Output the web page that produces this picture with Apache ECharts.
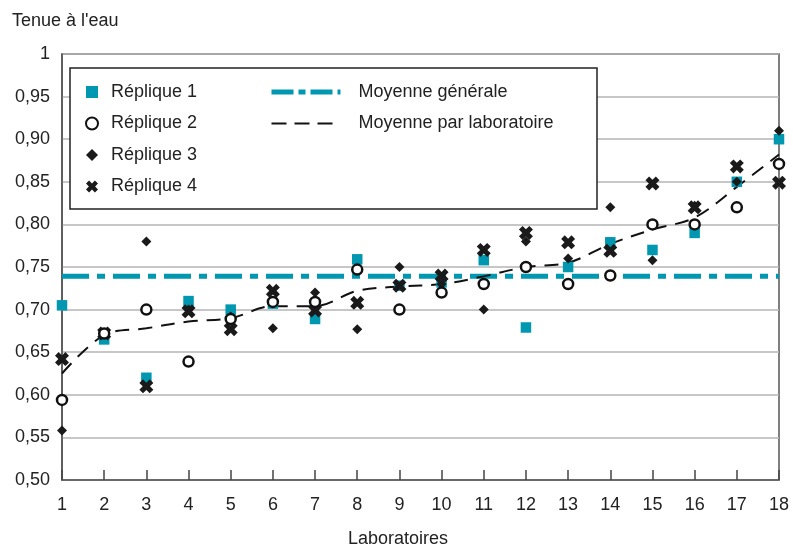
<!DOCTYPE html>
<html>
<head>
<meta charset="utf-8">
<script src="https://cdn.jsdelivr.net/npm/echarts@6/dist/echarts.min.js"></script>
<style>
  html, body { margin: 0; padding: 0; background: #fff; }
  #chart { width: 793px; height: 550px; }
</style>
</head>
<body>
<div id="chart"></div>
<script>
var labs = [1, 2, 3, 4, 5, 6, 7, 8, 9, 10, 11, 12, 13, 14, 15, 16, 17, 18]
var replique1 = [0.705, 0.665, 0.62, 0.71, 0.70, 0.707, 0.689, 0.759, 0.728, 0.732, 0.758, 0.679, 0.75, 0.779, 0.77, 0.79, 0.85, 0.90]
var replique2 = [0.594, 0.672, 0.70, 0.639, 0.689, 0.709, 0.709, 0.747, 0.70, 0.72, 0.73, 0.75, 0.73, 0.74, 0.80, 0.80, 0.82, 0.871]
var replique3 = [0.558, 0.672, 0.78, 0.70, 0.692, 0.678, 0.72, 0.677, 0.75, 0.73, 0.70, 0.78, 0.76, 0.82, 0.758, 0.822, 0.85, 0.91]
var replique4 = [0.642, 0.672, 0.61, 0.698, 0.677, 0.722, 0.699, 0.708, 0.728, 0.74, 0.77, 0.79, 0.779, 0.769, 0.848, 0.82, 0.868, 0.849]
var moyenneLabo = [0.625, 0.670, 0.678, 0.686, 0.690, 0.704, 0.704, 0.722, 0.727, 0.730, 0.739, 0.750, 0.755, 0.777, 0.794, 0.808, 0.844, 0.882]
var moyenneGenerale = 0.739

var teal = '#0097b0'
var ink = '#222'
var font = 'Liberation Sans, Arial, sans-serif'
// croix épaisse pour la réplique 4
var crossPath = 'path://M0,2.6 L2.6,0 L5,2.4 L7.4,0 L10,2.6 L7.6,5 L10,7.4 L7.4,10 L5,7.6 L2.6,10 L0,7.4 L2.4,5 Z'

function pairs(values) {
  return labs.map(function(l, i) { return [l, values[i]] })
}

var chart = echarts.init(document.getElementById('chart'))
chart.setOption({
  animation: false,
  textStyle: { fontFamily: font },
  title: {
    text: "Tenue à l'eau",
    left: 7,
    top: 7,
    textStyle: { fontFamily: font, fontSize: 18, fontWeight: 'normal', color: ink }
  },
  grid: {
    left: 62,
    right: 14,
    top: 54,
    bottom: 70,
    outerBoundsMode: 'none',
    show: true,
    borderColor: '#555',
    borderWidth: 1.5,
    backgroundColor: 'transparent'
  },
  xAxis: {
    type: 'value',
    min: 1,
    max: 18,
    interval: 1,
    name: 'Laboratoires',
    nameLocation: 'middle',
    nameGap: 50,
    nameTextStyle: { fontFamily: font, fontSize: 18, color: ink, padding: [0, 45, 0, 0] },
    axisLine: { lineStyle: { color: '#555', width: 1.5 } },
    axisTick: { inside: true, length: 10, lineStyle: { color: '#444', width: 1.5 } },
    axisLabel: { fontFamily: font, fontSize: 18, color: ink, margin: 16 },
    splitLine: { show: false }
  },
  yAxis: {
    type: 'value',
    min: 0.5,
    max: 1,
    interval: 0.05,
    axisLine: { show: true, lineStyle: { color: '#555', width: 1.5 } },
    axisTick: { show: false },
    axisLabel: {
      fontFamily: font,
      fontSize: 18,
      color: ink,
      margin: 12,
      formatter: function(v) {
        if (Math.abs(v - 1) < 1e-9) return '1'
        return v.toFixed(2).replace('.', ',')
      }
    },
    splitLine: { lineStyle: { color: '#b4b4b4', width: 1.5 } }
  },
  graphic: {
    elements: [{
      type: 'rect',
      z: 3,
      shape: { x: 70, y: 68, width: 527, height: 141 },
      style: { fill: '#fff', stroke: '#222', lineWidth: 1.5 }
    }]
  },
  legend: [
    {
      data: ['Réplique 1', 'Réplique 2', 'Réplique 3', 'Réplique 4'],
      orient: 'vertical',
      left: 85,
      top: 82,
      padding: 0,
      itemWidth: 12,
      itemHeight: 12,
      itemGap: 11.5,
      z: 4,
      textStyle: { fontFamily: font, fontSize: 18, color: ink, lineHeight: 20, padding: [0, 0, 0, 8] }
    },
    {
      data: [
        {
          name: 'Moyenne générale',
          itemStyle: { opacity: 0 },
          lineStyle: { color: teal, width: 5, type: [22, 5, 7, 5] }
        },
        {
          name: 'Moyenne par laboratoire',
          itemStyle: { opacity: 0 },
          lineStyle: { color: '#111', width: 2, type: [15, 8] }
        }
      ],
      orient: 'vertical',
      left: 269,
      top: 82,
      padding: 0,
      itemWidth: 69,
      itemHeight: 12,
      itemGap: 11.5,
      z: 4,
      textStyle: { fontFamily: font, fontSize: 18, color: ink, lineHeight: 20, padding: [0, 0, 0, 13] }
    }
  ],
  series: [
    {
      name: 'Moyenne générale',
      type: 'line',
      z: 1,
      symbol: 'none',
      data: [[1, moyenneGenerale], [18, moyenneGenerale]],
      lineStyle: { color: teal, width: 5, type: [27, 8, 8, 8] },
      itemStyle: { color: teal }
    },
    {
      name: 'Moyenne par laboratoire',
      type: 'line',
      z: 1,
      symbol: 'none',
      smooth: 0.35,
      data: pairs(moyenneLabo),
      lineStyle: { color: '#111', width: 2, type: [14, 9] },
      itemStyle: { color: '#111' }
    },
    {
      name: 'Réplique 1',
      type: 'scatter',
      z: 2,
      symbol: 'rect',
      symbolSize: 10.5,
      data: pairs(replique1),
      itemStyle: { color: teal, opacity: 1 }
    },
    {
      name: 'Réplique 3',
      type: 'scatter',
      z: 2,
      symbol: 'diamond',
      symbolSize: 10,
      data: pairs(replique3),
      itemStyle: { color: '#1a1a1a', opacity: 1 }
    },
    {
      name: 'Réplique 4',
      type: 'scatter',
      z: 2,
      symbol: crossPath,
      symbolSize: 14,
      data: pairs(replique4),
      itemStyle: { color: '#1a1a1a', opacity: 1 }
    },
    {
      name: 'Réplique 2',
      type: 'scatter',
      z: 2,
      symbol: 'circle',
      symbolSize: 10,
      data: pairs(replique2),
      itemStyle: { color: '#fff', borderColor: '#111', borderWidth: 2.5, opacity: 1 }
    }
  ]
})
</script>
</body>
</html>
